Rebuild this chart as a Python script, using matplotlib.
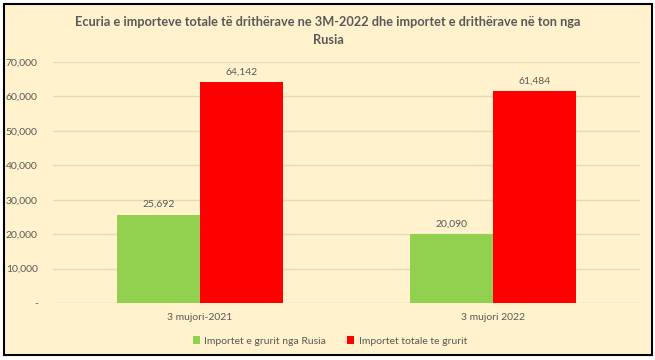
import matplotlib
matplotlib.use("Agg")
from matplotlib import pyplot as plt
from matplotlib.patches import Rectangle
from matplotlib.ticker import FuncFormatter
import numpy as np

categories = ["3 mujori-2021", "3 mujori 2022"]
russia_wheat = [25692, 20090]
total_wheat = [64142, 61484]
series_names = ["Importet e grurit nga Rusia", "Importet totale te grurit"]
title = ("Ecuria e importeve totale të drithërave ne 3M-2022 dhe importet e "
         "drithërave në ton nga\nRusia")

plt.rcParams['font.family'] = ['Lato', 'DejaVu Sans']
text_col = '#595959'
cream = '#FFF2CC'

fig = plt.figure(figsize=(6.55, 3.6), dpi=100)
fig.patch.set_facecolor('white')

# chart area frame (behind the axes)
frame = Rectangle((4 / 655, 1 - 355 / 360), 648 / 655, 351 / 360,
                  transform=fig.transFigure, facecolor=cream,
                  edgecolor='black', linewidth=1.5, zorder=-10)
fig.patches.append(frame)

ax = fig.add_axes([53 / 655, 1 - 303 / 360, 587 / 655, 241 / 360])
ax.set_facecolor('none')

x = np.arange(len(categories))
w = 0.283
b1 = ax.bar(x - w / 2, russia_wheat, w, color='#92D050', label=series_names[0], zorder=3)
b2 = ax.bar(x + w / 2, total_wheat, w, color='#FF0000', label=series_names[1], zorder=3)

for bars in (b1, b2):
    for r in bars:
        ax.annotate(f"{r.get_height():,.0f}", (r.get_x() + r.get_width() / 2, r.get_height()),
                    xytext=(0, 4), textcoords='offset points', ha='center', va='bottom',
                    fontsize=7.5, color=text_col)

ax.set_xlim(-0.5, 1.5)
ax.set_ylim(0, 70000)
ax.set_yticks(np.arange(0, 70001, 10000))
ax.yaxis.set_major_formatter(FuncFormatter(lambda v, p: '-' if v == 0 else f"{v:,.0f}"))
ax.set_xticks(x)
ax.set_xticklabels(categories)
ax.tick_params(axis='both', length=0, labelsize=7.5, labelcolor=text_col)
ax.tick_params(axis='y', pad=11)
ax.tick_params(axis='x', pad=7)
ax.grid(axis='y', color='#E3D9BC', linewidth=1, zorder=0)
ax.set_axisbelow(True)
for s in ax.spines.values():
    s.set_visible(False)

fig.text(328 / 655, 1 - 31 / 360, title, ha='center', va='center',
         fontsize=9.2, fontweight='bold', color=text_col, linespacing=1.5)

fig.legend(loc='center', bbox_to_anchor=(330 / 655, 1 - 341 / 360), ncol=2,
           frameon=False, fontsize=7.5, labelcolor=text_col, handlelength=0.7,
           handleheight=0.7, handletextpad=0.4, columnspacing=2.0)

fig.savefig('out.png', dpi=100, facecolor='white')
